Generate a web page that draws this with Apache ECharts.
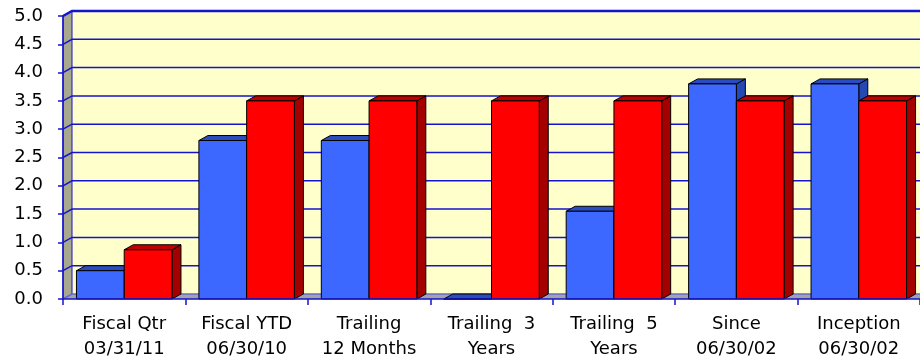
<!DOCTYPE html>
<html>
<head>
<meta charset="utf-8">
<script src="https://cdn.jsdelivr.net/npm/echarts@6.0.0/dist/echarts.min.js"></script>
<style>
  html, body { margin: 0; padding: 0; background: #ffffff; }
  #chart { width: 920px; height: 364px; }
</style>
</head>
<body>
<div id="chart"></div>
<script>
// Period labels along the category axis
const categories = [
  'Fiscal Qtr\n03/31/11',
  'Fiscal YTD\n06/30/10',
  'Trailing\n12 Months',
  'Trailing  3\nYears',
  'Trailing  5\nYears',
  'Since\n06/30/02',
  'Inception\n06/30/02'
];
// Returns per period (%)
const blueValues = [0.5, 2.8, 2.8, 0.0, 1.55, 3.8, 3.8];
const redValues  = [0.87, 3.5, 3.5, 3.5, 3.5, 3.5, 3.5];
// Value-axis ticks (gridlines on the back wall)
const yTicks = [0.0, 0.5, 1.0, 1.5, 2.0, 2.5, 3.0, 3.5, 4.0, 4.5, 5.0];

// 3D depth of walls and bars (pixels)
const DX = 9, DY = -5;
const BAR_RATIO = 0.39;
const GRID_BLUE = '#1414cc';

function renderWalls(params, api) {
  const cs = params.coordSys;
  const x0 = cs.x, x1 = cs.x + cs.width + 20;
  const yTop = cs.y, yBot = cs.y + cs.height;
  const children = [];
  // back wall
  children.push({ type: 'rect',
    shape: { x: x0 + DX, y: yTop + DY, width: x1 - x0, height: yBot - yTop },
    style: { fill: '#ffffcc' } });
  // left side wall
  children.push({ type: 'polygon',
    shape: { points: [[x0, yBot], [x0, yTop], [x0 + DX, yTop + DY], [x0 + DX, yBot + DY]] },
    style: { fill: '#a8a88e', stroke: GRID_BLUE, lineWidth: 1 } });
  // floor
  children.push({ type: 'polygon',
    shape: { points: [[x0, yBot], [x0 + DX, yBot + DY], [x1, yBot + DY], [x1, yBot]] },
    style: { fill: '#a2a2ac' } });
  // gridlines running across the side wall and the back wall
  yTicks.forEach(function (v) {
    const y = api.coord([0, v])[1];
    children.push({ type: 'polyline',
      shape: { points: [[x0, y], [x0 + DX, y + DY], [x1, y + DY]] },
      style: { stroke: v === 0 ? '#6a6ac8' : GRID_BLUE, lineWidth: v === 5 ? 2.5 : 1.5, fill: null } });
  });
  return { type: 'group', children: children };
}

function barRenderer(leftSide, frontCol, topCol, sideCol) {
  return function (params, api) {
    const i = api.value(0), v = api.value(1);
    const pt = api.coord([i, v]);
    const y0 = api.coord([i, 0])[1];
    const band = api.size([1, 0])[0];
    const w = band * BAR_RATIO;
    const xl = leftSide ? pt[0] - w : pt[0];
    const xr = xl + w;
    const yt = pt[1];
    const edge = { stroke: '#000000', lineWidth: 1 };
    return { type: 'group', children: [
      { type: 'polygon',
        shape: { points: [[xr, y0], [xr, yt], [xr + DX, yt + DY], [xr + DX, y0 + DY]] },
        style: Object.assign({ fill: sideCol }, edge) },
      { type: 'polygon',
        shape: { points: [[xl, yt], [xl + DX, yt + DY], [xr + DX, yt + DY], [xr, yt]] },
        style: Object.assign({ fill: topCol }, edge) },
      { type: 'rect',
        shape: { x: xl, y: yt, width: w, height: y0 - yt },
        style: Object.assign({ fill: frontCol }, edge) }
    ] };
  };
}

const FONT = 'DejaVu Sans';
const chart = echarts.init(document.getElementById('chart'), null, { renderer: 'canvas' });
chart.setOption({
  animation: false,
  backgroundColor: '#ffffff',
  grid: { left: 63, top: 16, width: 859, height: 283, containLabel: false },
  xAxis: {
    type: 'category',
    data: categories,
    boundaryGap: true,
    z: 10,
    axisLine: { show: true, lineStyle: { color: GRID_BLUE, width: 1.5 } },
    axisTick: { show: true, interval: 0, length: 6, lineStyle: { color: GRID_BLUE, width: 1.5 } },
    axisLabel: { interval: 0, color: '#000000', fontFamily: FONT, fontSize: 18, lineHeight: 25, margin: 13 },
    splitLine: { show: false }
  },
  yAxis: {
    type: 'value',
    min: 0, max: 5, interval: 0.5,
    z: 10,
    axisLine: { show: true, lineStyle: { color: GRID_BLUE, width: 1.5 } },
    axisTick: { show: true, length: 5, lineStyle: { color: GRID_BLUE, width: 1.5 } },
    axisLabel: { color: '#000000', fontFamily: FONT, fontSize: 18, margin: 20,
      formatter: function (v) { return v.toFixed(1); } },
    splitLine: { show: false }
  },
  series: [
    { type: 'custom', z: 1, clip: false, renderItem: renderWalls, data: [[0, 0]], silent: true },
    { type: 'custom', z: 2, clip: false,
      renderItem: barRenderer(true, '#3d68ff', '#2a4cc0', '#2448b4'),
      data: blueValues.map(function (v, i) { return [i, v]; }) },
    { type: 'custom', z: 3, clip: false,
      renderItem: barRenderer(false, '#ff0000', '#c00000', '#a40000'),
      data: redValues.map(function (v, i) { return [i, v]; }) }
  ]
});
</script>
</body>
</html>
